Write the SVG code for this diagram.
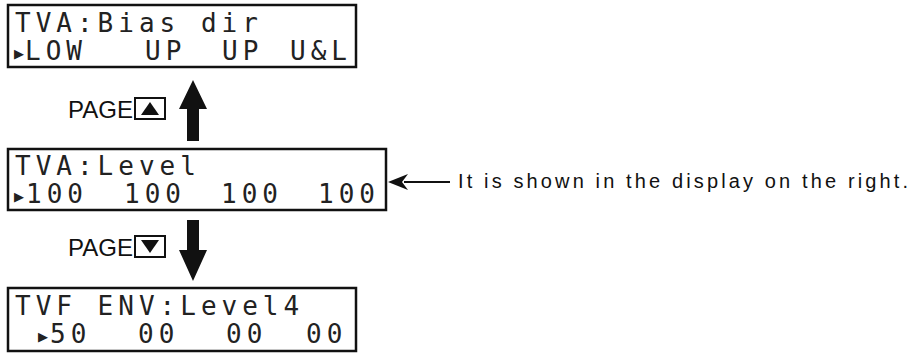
<svg xmlns="http://www.w3.org/2000/svg" width="912" height="356" viewBox="0 0 912 356">
<style>
.lcd{fill:#fff;stroke:#111;stroke-width:2.5}
.lt{font-family:"DejaVu Sans Mono","Liberation Mono",monospace;font-size:26px;letter-spacing:5px;fill:#222}
.cur{font-family:"DejaVu Sans","Liberation Sans",sans-serif;font-size:13px;fill:#222}
.lab{font-family:"Liberation Sans",Arial,sans-serif;font-size:24px;fill:#111}
.key{fill:#fff;stroke:#111;stroke-width:2}
.ar{fill:#111}
</style>
<g id="display-bias">
<rect class="lcd" x="8" y="5" width="348" height="62"/>
<text class="lt" x="15" y="32" xml:space="preserve">TVA:Bias dir</text>
<text class="cur" x="14" y="58">▶</text>
<text class="lt" y="60"><tspan x="25">LOW</tspan><tspan x="145">UP</tspan><tspan x="222">UP</tspan><tspan x="290">U&amp;L</tspan></text>
</g>
<g id="display-level">
<rect class="lcd" x="8" y="149" width="378" height="61"/>
<text class="lt" x="15" y="175">TVA:Level</text>
<text class="cur" x="14" y="201">▶</text>
<text class="lt" y="203"><tspan x="26">100</tspan><tspan x="124">100</tspan><tspan x="221">100</tspan><tspan x="318">100</tspan></text>
</g>
<g id="display-env">
<rect class="lcd" x="8" y="288" width="348" height="63"/>
<text class="lt" x="15" y="315" xml:space="preserve">TVF ENV:Level4</text>
<text class="cur" x="38" y="341">▶</text>
<text class="lt" y="343"><tspan x="50">50</tspan><tspan x="138">00</tspan><tspan x="226">00</tspan><tspan x="306">00</tspan></text>
</g>
<g id="page-up">
<text class="lab" x="68" y="118" textLength="65" lengthAdjust="spacingAndGlyphs">PAGE</text>
<rect class="key" x="135" y="98" width="30" height="21"/>
<polygon class="ar" points="150,102 159,115 141,115"/>
</g>
<g id="page-down">
<text class="lab" x="68" y="256" textLength="65" lengthAdjust="spacingAndGlyphs">PAGE</text>
<rect class="key" x="135" y="236" width="30" height="21"/>
<polygon class="ar" points="141,240 159,240 150,253"/>
</g>
<g id="note">
<text x="458" y="188" font-family="'Liberation Sans',Arial,sans-serif" font-size="20" fill="#111" textLength="450" lengthAdjust="spacing">It is shown in the display on the right.</text>
</g>
<g id="connectors">
<polygon class="ar" points="193,80 207,109 199,109 199,141 187,141 187,109 179,109"/>
<polygon class="ar" points="187,220 199,220 199,250 207,250 193,281 179,250 187,250"/>
<line x1="404" y1="182" x2="450" y2="182" stroke="#111" stroke-width="2"/>
<polygon class="ar" points="388,182 408,174 402,182 408,190"/>
</g>
</svg>
